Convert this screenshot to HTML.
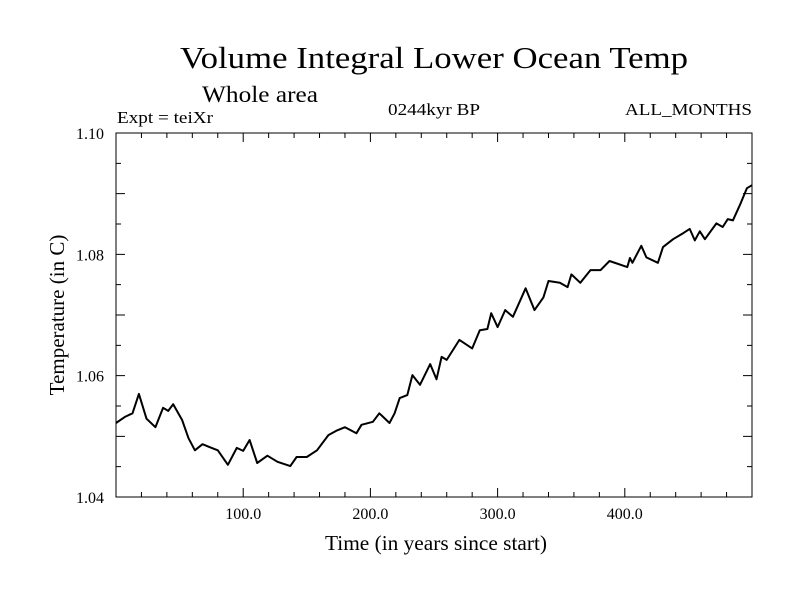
<!DOCTYPE html>
<html><head><meta charset="utf-8"><style>
html,body{margin:0;padding:0;background:#fff;}
svg{display:block;font-family:"Liberation Serif",serif;}
</style></head><body>
<svg id="chart" width="800" height="600" viewBox="0 0 800 600" xmlns="http://www.w3.org/2000/svg">
<rect width="800" height="600" fill="#fff"/>
<text x="180" y="68" font-size="31" textLength="508" lengthAdjust="spacingAndGlyphs">Volume Integral Lower Ocean Temp</text>
<text x="202" y="102" font-size="23" textLength="116" lengthAdjust="spacingAndGlyphs">Whole area</text>
<text x="117" y="123" font-size="17" textLength="96" lengthAdjust="spacingAndGlyphs">Expt = teiXr</text>
<text x="388" y="115" font-size="17" textLength="92" lengthAdjust="spacingAndGlyphs">0244kyr BP</text>
<text x="625" y="115" font-size="17" textLength="127" lengthAdjust="spacingAndGlyphs">ALL_MONTHS</text>
<text transform="translate(64,315) rotate(-90)" text-anchor="middle" font-size="21">Temperature (in C)</text>
<text x="436" y="550" text-anchor="middle" font-size="21" textLength="222" lengthAdjust="spacingAndGlyphs">Time (in years since start)</text>
<g id="axes"></g>
<path id="series" fill="none" stroke="#000" stroke-width="2" stroke-linejoin="round"/>
</svg>
<script>
const years=[0,7,13,18,24,31,37,41,45,52,57,62,68,74,80,88,95,100,105,111,119,127,137,142,150,158,167,174,180,189,193,202,207,210,215,219,223,229,233,239,247,252,256,260,270,280,286,292,295,300,306,312,318,322,329,336,340,349,355,358,365,373,381,388,402,404,406,413,417,426,430,438,446,451,455,459,463,472,477,481,485,491,496,500];
const temps=[1.0522,1.0532,1.0538,1.0570,1.0529,1.0515,1.0547,1.0542,1.0553,1.0527,1.0497,1.0477,1.0487,1.0482,1.0477,1.0453,1.0481,1.0476,1.0494,1.0456,1.0468,1.0458,1.0451,1.0466,1.0466,1.0477,1.0502,1.0510,1.0515,1.0505,1.0519,1.0524,1.0538,1.0532,1.0522,1.0538,1.0563,1.0568,1.0601,1.0585,1.0619,1.0594,1.0631,1.0626,1.0659,1.0645,1.0675,1.0677,1.0703,1.0680,1.0708,1.0697,1.0725,1.0744,1.0708,1.0729,1.0756,1.0753,1.0746,1.0767,1.0753,1.0774,1.0774,1.0789,1.0779,1.0794,1.0786,1.0814,1.0795,1.0786,1.0812,1.0825,1.0835,1.0842,1.0823,1.0838,1.0825,1.0851,1.0845,1.0858,1.0856,1.0884,1.0909,1.0914];
const xTickValues=[100,200,300,400];
const xTickLabels=["100.0","200.0","300.0","400.0"];
const yTickValues=[1.04,1.06,1.08,1.10];
const yTickLabels=["1.04","1.06","1.08","1.10"];
const X0=116,X1=752,Y0=497,Y1=133,XMIN=0,XMAX=500,YMIN=1.04,YMAX=1.10;
function sx(v){return X0+(v-XMIN)/(XMAX-XMIN)*(X1-X0);}
function sy(v){return Y0-(v-YMIN)/(YMAX-YMIN)*(Y0-Y1);}
const NS="http://www.w3.org/2000/svg";
const ax=document.getElementById('axes');
function mk(tag,attrs,parent){const e=document.createElementNS(NS,tag);for(const k in attrs)e.setAttribute(k,attrs[k]);(parent||ax).appendChild(e);return e;}
const frame=mk('rect',{x:X0,y:Y1,width:X1-X0,height:Y0-Y1,fill:'none',stroke:'#000','stroke-width':1});


for(let v=20;v<XMAX;v+=20){
  const major=v%100===0,L=major?9:5,x=sx(v);
  const t=mk('path',{d:`M${x},${Y0}v${-L}M${x},${Y1}v${L}`,stroke:'#000','stroke-width':1});
  
  
}
for(let v=YMIN+0.005;v<YMAX-0.001;v+=0.005){
  const major=Math.abs(v*100-Math.round(v*100))<0.01,L=major?9:5,y=sy(v);
  const t=mk('path',{d:`M${X0},${y}h${L}M${X1},${y}h${-L}`,stroke:'#000','stroke-width':1});
  
  
}
xTickValues.forEach((v,i)=>{
  const t=mk('text',{x:sx(v),y:519,'text-anchor':'middle','font-size':16});
  t.textContent=xTickLabels[i];
  
  
});
yTickValues.forEach((v,i)=>{
  const t=mk('text',{x:104,y:sy(v)+6,'text-anchor':'end','font-size':16});
  t.textContent=yTickLabels[i];
  
  
});
document.getElementById('series').setAttribute('d',years.map((yr,i)=>(i?'L':'M')+sx(yr).toFixed(1)+','+sy(temps[i]).toFixed(1)).join(''));
</script>
</body></html>
